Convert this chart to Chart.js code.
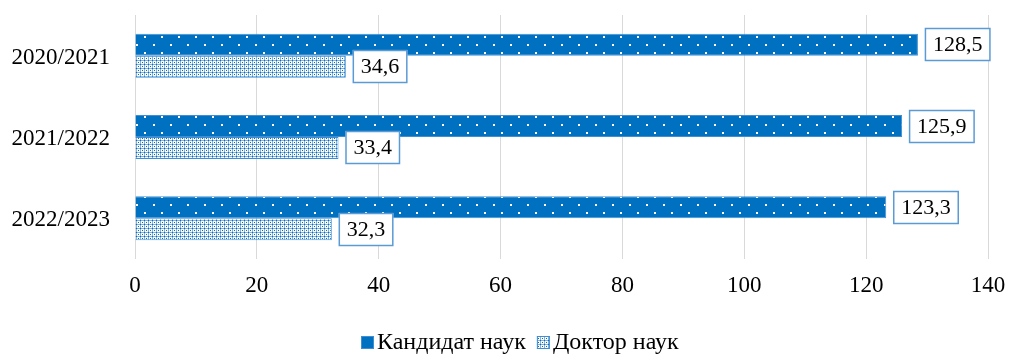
<!DOCTYPE html>
<html><head><meta charset="utf-8">
<script src="https://cdn.jsdelivr.net/npm/chart.js@4"></script>
<style>html,body{margin:0;padding:0;background:#fff}#w{width:1009px;height:354px}</style>
</head><body><div id="w"><canvas id="c" width="1009" height="354"></canvas></div>
<script>
const categories = ['2020/2021', '2021/2022', '2022/2023'];
const candidateValues = [128.5, 125.9, 123.3];
const doctorValues = [34.6, 33.4, 32.3];
const seriesNames = ['Кандидат наук', 'Доктор наук'];
const xTicks = [0, 20, 40, 60, 80, 100, 120, 140];

function darkPattern() {
  const c = document.createElement('canvas'); c.width = 17; c.height = 16;
  const g = c.getContext('2d');
  g.fillStyle = '#0070C0'; g.fillRect(0, 0, 17, 16);
  g.fillStyle = '#ffffff';
  g.fillRect(8, 4, 2, 2); g.fillRect(0, 12, 2, 2);
  return g.createPattern(c, 'repeat');
}
function lightPattern() {
  const c = document.createElement('canvas'); c.width = 4; c.height = 4;
  const g = c.getContext('2d');
  g.fillStyle = '#ffffff'; g.fillRect(0, 0, 4, 4);
  g.fillStyle = '#7FB2E0'; g.fillRect(0, 0, 4, 1); g.fillRect(0, 0, 1, 4);
  g.fillStyle = '#0070C0'; g.fillRect(2, 2, 1, 1); g.fillRect(0, 0, 1, 1);
  return g.createPattern(c, 'repeat');
}
const FONT = '"Liberation Serif", "Times New Roman", serif';
const FS = 23;

const labelPlugin = {
  id: 'boxLabels',
  afterDatasetsDraw(chart) {
    const ctx = chart.ctx;
    ctx.save();
    ctx.font = '22px ' + FONT;
    chart.data.datasets.forEach((ds, di) => {
      const meta = chart.getDatasetMeta(di);
      meta.data.forEach((bar, i) => {
        const txt = ds.data[i].toFixed(1).replace('.', ',');
        const tw = ctx.measureText(txt).width;
        const w = tw + 16, h = 33;
        const x = bar.x + 7, y = Math.round(bar.y - h / 2);
        ctx.fillStyle = '#fff';
        ctx.fillRect(x, y, w, h);
        ctx.strokeStyle = '#5B9BD5'; ctx.lineWidth = 1.5;
        ctx.strokeRect(x + 0.5, y + 0.5, w - 1, h - 1);
        ctx.fillStyle = '#000'; ctx.textAlign = 'center'; ctx.textBaseline = 'middle';
        ctx.fillText(txt, x + w / 2, y + h / 2 + 1);
      });
    });
    ctx.restore();
  }
};

const legendPlugin = {
  id: 'customLegend',
  afterDraw(chart) {
    const ctx = chart.ctx;
    ctx.save();
    ctx.font = '24px ' + FONT;
    const box = 13, gapBox = 3, gapItem = 11, cy = 343;
    const items = chart.data.datasets.map((ds, i) => ({ label: ds.label, fill: i === 0 ? '#0070C0' : ds.backgroundColor, stroke: ds.borderColor }));
    let total = 0;
    items.forEach((it, i) => { it.w = ctx.measureText(it.label).width; total += box + gapBox + it.w + (i ? gapItem : 0); });
    let x = Math.round(520 - total / 2);
    items.forEach((it, i) => {
      if (i) x += gapItem;
      ctx.fillStyle = it.fill;
      ctx.fillRect(x, cy - 7, box, box);
      ctx.strokeStyle = it.stroke; ctx.lineWidth = 1;
      ctx.strokeRect(x + 0.5, cy - 6.5, box - 1, box - 1);
      x += box + gapBox;
      ctx.fillStyle = '#000'; ctx.textAlign = 'left'; ctx.textBaseline = 'middle';
      ctx.fillText(it.label, x, cy);
      x += it.w;
    });
    ctx.restore();
  }
};

new Chart(document.getElementById('c'), {
  type: 'bar',
  data: {
    labels: categories,
    datasets: [
      { label: seriesNames[0], data: candidateValues, backgroundColor: darkPattern(), borderColor: '#3F8ED4', borderWidth: 1 },
      { label: seriesNames[1], data: doctorValues, backgroundColor: lightPattern(), borderColor: '#3F8ED4', borderWidth: 1 }
    ]
  },
  options: {
    indexAxis: 'y',
    responsive: false,
    animation: false,
    devicePixelRatio: 1,
    layout: { padding: { top: 15, right: 21, left: 0, bottom: 40 } },
    datasets: { bar: { barPercentage: 1, categoryPercentage: 0.54 } },
    scales: {
      x: {
        min: 0, max: 140,
        afterBuildTicks(s) { s.ticks = xTicks.map(v => ({ value: v })); },
        grid: { color: '#d9d9d9', lineWidth: 1, drawTicks: false },
        border: { display: false },
        ticks: { color: '#000', font: { family: FONT, size: FS }, padding: 13 },
        afterFit(s) { s.height = 55; s.paddingLeft = 0; s.paddingRight = 0; }
      },
      y: {
        grid: { display: false },
        border: { display: false },
        ticks: { color: '#000', font: { family: FONT, size: FS }, padding: 17, labelOffset: 2 },
        afterFit(s) { s.width = 135; s.paddingTop = 0; s.paddingBottom = 0; }
      }
    },
    plugins: {
      legend: { display: false },
      tooltip: { enabled: false }
    }
  },
  plugins: [labelPlugin, legendPlugin]
});
</script></body></html>
